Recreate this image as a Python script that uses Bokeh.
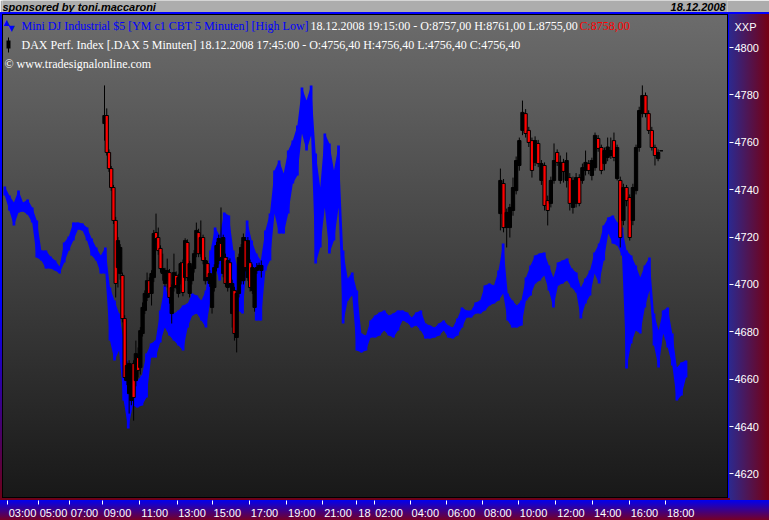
from bokeh.plotting import figure
from bokeh.layouts import column
from bokeh.models import Range1d, FixedTicker, Label, BoxAnnotation, ColumnDataSource
from bokeh.embed import file_html
from bokeh.resources import INLINE

# ---------------- data ----------------
# The time axis is bar based (gaps at night), x is measured in 15-minute chart slots.
# Mini DJ Industrial (YM), 15-minute high / low per slot, in index points
dj_high = [8850, 8845.5, 8842, 8848, 8842, 8843.5, 8839.5, 8833, 8818, 8818,
           8815, 8813, 8810, 8822, 8825, 8832, 8832, 8831.5, 8829.5, 8824,
           8819.5, 8815.5, 8819.5, 8799.5, 8793, 8786.5, 8773, 8760.5, 8753, 8753,
           8755.5, 8766.5, 8771.5, 8773, 8788, 8800.5, 8793, 8786.5, 8788, 8790.5,
           8791.5, 8796.5, 8795.5, 8793, 8798, 8818, 8829.5, 8825.5, 8837, 8835.5,
           8818, 8808, 8813, 8833, 8823, 8816.5, 8813, 8828, 8836.5, 8858,
           8863, 8856.5, 8868, 8873, 8880.5, 8899.5, 8893, 8900.5, 8866.5, 8849.5,
           8876.5, 8871.5, 8858, 8870.5, 8818, 8804, 8807, 8798, 8776.5, 8775.5,
           8783, 8785.5, 8787, 8788, 8785.5, 8786.5, 8788, 8788, 8787, 8784.5,
           8787, 8788, 8781.5, 8780.5, 8779.5, 8781.5, 8783, 8780.5, 8779.5, 8784,
           8789.5, 8788, 8788, 8792, 8793, 8800.5, 8801.5, 8800.5, 8808, 8821.5,
           8796.5, 8793, 8790.5, 8793, 8804.5, 8810.5, 8815.5, 8816.5, 8817, 8810.5,
           8804.5, 8812, 8813, 8814, 8809, 8807, 8799.5, 8804, 8808, 8817,
           8821.5, 8830.5, 8834.5, 8835.5, 8832, 8829.5, 8818, 8815.5, 8810.5, 8804.5,
           8810.5, 8814.5, 8786.5, 8778, 8788, 8789.5, 8776.5, 8759.5, 8762, 8763]
dj_low = [8845.5, 8838, 8830.5, 8837, 8837.5, 8836, 8832, 8814.5, 8813, 8809,
          8809, 8808, 8806.5, 8812, 8818, 8823, 8828.5, 8828, 8823, 8815.5,
          8813, 8806.5, 8806.5, 8773, 8763, 8768, 8743, 8729, 8740.5, 8739.5,
          8740.5, 8744.5, 8764.5, 8764.5, 8772, 8779.5, 8775.5, 8773, 8770.5, 8768,
          8779.5, 8785.5, 8786.5, 8783, 8779.5, 8793, 8809.5, 8803, 8809.5, 8810.5,
          8793, 8788, 8786.5, 8813, 8805.5, 8783, 8783, 8808, 8813, 8836.5,
          8826.5, 8826.5, 8836.5, 8851.5, 8855.5, 8876.5, 8868, 8875.5, 8811.5, 8819.5,
          8839.5, 8816.5, 8823, 8839.5, 8781.5, 8793, 8795.5, 8768, 8767, 8768,
          8774.5, 8774.5, 8775.5, 8778, 8775.5, 8774.5, 8778, 8783, 8782, 8779.5,
          8780.5, 8778, 8774, 8774, 8774.5, 8775.5, 8778, 8774.5, 8774, 8775.5,
          8779.5, 8784.5, 8784.5, 8786.5, 8786.5, 8788, 8790.5, 8791.5, 8793, 8796.5,
          8783, 8779.5, 8779.5, 8780.5, 8793, 8795.5, 8801.5, 8803, 8805.5, 8798,
          8789.5, 8800.5, 8801.5, 8803, 8799.5, 8797, 8784, 8791.5, 8795.5, 8806.5,
          8801.5, 8813, 8826.5, 8821.5, 8820.5, 8815.5, 8759, 8771.5, 8778, 8776.5,
          8789.5, 8798, 8770.5, 8759.5, 8776.5, 8769.5, 8760.5, 8743, 8745.5, 8754.5]

# DAX Perf. Index candles (open, high, low, close)
dax_day1 = [
    (4767.9, 4784.0, 4760.7, 4771.3), (4771.3, 4774.3, 4754.4, 4755.7), (4755.7, 4757.0, 4747.5, 4748.9),
    (4748.9, 4750.0, 4739.5, 4740.9), (4740.9, 4742.0, 4725.5, 4727.0), (4727.0, 4728.5, 4694.5, 4700.4),
    (4707.1, 4720.0, 4698.7, 4718.5), (4704.6, 4717.0, 4702.0, 4715.6), (4703.8, 4705.0, 4684.0, 4685.6),
    (4685.6, 4687.0, 4659.4, 4660.7), (4659.4, 4667.5, 4657.5, 4665.8), (4653.9, 4668.0, 4645.5, 4666.6),
    (4651.0, 4666.5, 4649.0, 4664.9), (4666.6, 4668.0, 4642.5, 4652.3), (4659.4, 4676.3, 4657.0, 4670.8),
    (4669.1, 4673.4, 4660.7, 4663.7), (4664.9, 4682.0, 4662.0, 4680.5), (4679.3, 4692.4, 4678.0, 4690.3),
    (4689.0, 4697.5, 4687.5, 4696.2), (4694.5, 4705.0, 4693.0, 4701.6), (4701.6, 4703.0, 4694.5, 4696.2),
    (4696.2, 4706.0, 4691.1, 4704.6), (4702.9, 4723.0, 4701.0, 4721.5), (4721.9, 4729.9, 4717.5, 4719.4),
    (4719.8, 4724.0, 4712.5, 4714.3), (4715.2, 4716.5, 4705.0, 4706.7), (4704.6, 4713.0, 4701.6, 4706.7),
    (4700.4, 4707.0, 4699.0, 4705.9), (4701.6, 4710.9, 4698.7, 4705.9), (4705.0, 4706.5, 4691.9, 4694.5),
    (4687.7, 4700.0, 4683.5, 4698.7), (4698.7, 4713.0, 4697.0, 4705.0), (4703.8, 4705.5, 4698.0, 4699.5),
    (4696.2, 4704.5, 4694.5, 4702.9), (4701.6, 4709.5, 4700.0, 4708.8), (4709.2, 4710.5, 4695.0, 4696.6),
    (4702.9, 4719.5, 4701.5, 4718.5), (4717.7, 4719.0, 4701.5, 4702.9), (4696.2, 4710.0, 4694.5, 4708.8),
    (4701.6, 4708.0, 4700.0, 4706.7), (4706.7, 4714.5, 4705.0, 4713.0), (4713.0, 4726.1, 4711.5, 4722.8),
    (4721.9, 4723.5, 4711.5, 4713.0), (4713.0, 4727.0, 4711.5, 4719.8), (4719.8, 4721.0, 4708.5, 4710.1),
    (4701.6, 4711.5, 4700.0, 4710.1), (4708.8, 4710.0, 4701.5, 4702.9), (4700.4, 4706.0, 4699.0, 4704.6),
    (4690.3, 4704.0, 4687.7, 4702.9), (4698.7, 4708.5, 4697.0, 4707.1), (4707.1, 4718.0, 4705.5, 4716.4),
    (4710.1, 4721.0, 4708.5, 4719.4), (4717.3, 4732.5, 4710.0, 4711.4), (4704.6, 4721.0, 4703.0, 4719.8),
    (4711.4, 4713.0, 4699.0, 4700.4), (4698.7, 4711.5, 4697.0, 4710.1), (4709.2, 4711.0, 4699.0, 4700.4),
    (4687.7, 4702.0, 4681.8, 4700.4), (4697.4, 4699.0, 4676.3, 4679.3), (4677.6, 4697.5, 4671.3, 4696.2),
    (4696.2, 4713.0, 4694.5, 4711.4), (4701.6, 4717.0, 4700.0, 4715.6), (4701.6, 4721.5, 4700.0, 4719.8),
    (4718.5, 4720.0, 4705.5, 4707.1), (4702.9, 4720.0, 4701.5, 4718.5), (4709.2, 4710.5, 4697.0, 4698.7),
    (4697.4, 4708.5, 4696.0, 4707.1), (4690.3, 4707.0, 4688.5, 4705.9), (4705.9, 4709.0, 4704.5, 4707.1),
    (4707.1, 4709.2, 4706.5, 4708.0), (4705.9, 4710.1, 4702.9, 4708.0),
]
dax_day2 = [
    (4729.9, 4748.9, 4722.8, 4743.9), (4742.6, 4744.5, 4722.0, 4724.0), (4724.0, 4732.0, 4715.6, 4730.4),
    (4724.0, 4734.0, 4719.8, 4732.5), (4731.2, 4745.1, 4729.0, 4740.9), (4739.6, 4754.0, 4738.0, 4752.3),
    (4750.2, 4762.0, 4748.0, 4760.7), (4765.0, 4777.6, 4763.0, 4772.6), (4772.1, 4774.0, 4762.0, 4763.7),
    (4765.0, 4766.5, 4758.0, 4759.9), (4760.7, 4762.0, 4745.1, 4748.1), (4751.5, 4762.5, 4750.0, 4760.7),
    (4759.5, 4761.0, 4749.5, 4751.0), (4743.9, 4752.5, 4742.0, 4751.0), (4750.2, 4751.5, 4731.2, 4733.3),
    (4735.4, 4737.5, 4724.9, 4731.2), (4734.2, 4745.5, 4732.5, 4743.9), (4743.9, 4759.5, 4742.5, 4752.3),
    (4755.7, 4757.0, 4750.0, 4751.5), (4743.9, 4754.4, 4742.5, 4751.5), (4751.5, 4753.0, 4743.0, 4747.7),
    (4743.9, 4755.7, 4740.9, 4752.3), (4745.1, 4747.0, 4731.2, 4734.2), (4732.5, 4745.5, 4729.9, 4743.9),
    (4734.2, 4747.0, 4732.5, 4745.1), (4745.1, 4746.5, 4733.0, 4734.2), (4743.9, 4751.0, 4742.5, 4749.3),
    (4748.1, 4756.5, 4746.0, 4751.5), (4751.0, 4752.5, 4746.5, 4748.1), (4746.0, 4753.5, 4743.9, 4752.3),
    (4749.3, 4764.1, 4748.0, 4762.9), (4761.6, 4763.0, 4756.0, 4757.4), (4757.8, 4759.0, 4746.5, 4748.1),
    (4751.0, 4757.8, 4748.1, 4756.5), (4753.6, 4762.0, 4752.0, 4758.0), (4754.4, 4762.0, 4753.0, 4756.5),
    (4760.7, 4764.1, 4752.0, 4753.6), (4744.7, 4759.0, 4743.9, 4757.8), (4743.9, 4745.5, 4715.6, 4719.8),
    (4727.0, 4742.5, 4725.0, 4740.9), (4740.9, 4742.0, 4733.0, 4735.4), (4736.7, 4738.0, 4718.5, 4719.8),
    (4727.0, 4742.5, 4725.0, 4740.9), (4739.6, 4759.0, 4738.0, 4757.8), (4757.8, 4775.0, 4756.0, 4773.4),
    (4772.1, 4784.0, 4770.5, 4779.7), (4779.7, 4781.0, 4770.5, 4772.1), (4772.1, 4773.5, 4763.5, 4765.0),
    (4765.0, 4766.5, 4756.5, 4757.8), (4757.8, 4759.0, 4750.2, 4754.4), (4753.1, 4757.0, 4752.0, 4755.7),
    (4756.4, 4756.4, 4756.4, 4756.4),
]
dax_day1_start, dax_day1_step = 22.31, 0.49   # slot of first candle, slots per candle
dax_day2_start, dax_day2_step = 108.9, 0.69

time_tick_slots = [1.09, 7.87, 14.65, 21.87, 30.01, 38.17, 45.89, 54.02, 62.18, 70.10,
                   77.52, 81.26, 89.20, 97.13, 105.07, 112.88, 121.04, 129.09, 137.12, 145.06]
time_tick_labels = ["03:00", "05:00", "07:00", "09:00", "11:00", "13:00", "15:00", "17:00", "19:00", "21:00",
                    "18", "02:00", "04:00", "06:00", "08:00", "10:00", "12:00", "14:00", "16:00", "18:00"]
dax_ticks = [4620, 4640, 4660, 4680, 4700, 4720, 4740, 4760, 4780, 4800]
dax_unit_label, dax_unit_pos = "XXP", 4808.8

# ---------------- layout ----------------
W = 769
PX_PER_SLOT = 4.572
FRAME_W, FRAME_H = 725, 486
DAX_PX = 2.3694           # px per DAX point
DJ_PX = 2.0               # px per DJ point
dax_top = 4800 + 33 / DAX_PX
dax_bottom = 4800 - 453 / DAX_PX
dj_top = 8758 + 356 / DJ_PX
dj_bottom = 8758 - 130 / DJ_PX

# ---- top bar ----
top = figure(width=W, height=12, x_range=Range1d(0, W), y_range=Range1d(0, 12),
             x_axis_location=None, y_axis_location=None, min_border=0,
             min_border_left=0, min_border_right=0, min_border_top=0, min_border_bottom=0,
             output_backend="svg", toolbar_location=None,
             background_fill_color="#adadad", border_fill_color="#adadad", outline_line_color=None)
top.grid.visible = False
top.add_layout(Label(x=0, y=6, text="sponsored by toni.maccaroni", text_color="black",
                     text_font="Liberation Sans", text_font_size="11px", text_font_style="bold italic",
                     text_baseline="middle"))
top.add_layout(Label(x=767, y=6, text="18.12.2008", text_color="black",
                     text_font="Liberation Sans", text_font_size="11px", text_font_style="bold italic",
                     text_align="right", text_baseline="middle"))

# ---- main chart ----
bg = [
    ("linear-gradient(#000,#000)", "2px 2px", "726px 1px"),
    ("linear-gradient(#000,#000)", "2px 2px", "1px 484px"),
    ("linear-gradient(#000,#000)", "727px 2px", "1px 484px"),
    ("linear-gradient(#000,#000)", "2px 485px", "726px 1px"),
    ("linear-gradient(#6e0018,#6e0018)", "0px 486px", "730px 2px"),
    ("linear-gradient(#0000ff,#0000ff)", "0px 0px", "769px 2px"),
    ("linear-gradient(to bottom,#0000ff,#0000ff 60%,#6e0018)", "0px 0px", "2px 486px"),
    ("linear-gradient(#0000ff,#0000ff)", "728px 0px", "1px 488px"),
    ("linear-gradient(to bottom,#6c6c6c,#181818)", "2px 2px", "726px 484px"),
    ("linear-gradient(to right,#2a2a92,#760012)", "728px 0px", "41px 488px"),
    ("linear-gradient(to bottom,#0000f0,#760026)", "0px 488px", "769px 20px"),
]
styles = {
    "background-color": "#3a3a3a",
    "background-image": ",".join(b[0] for b in bg),
    "background-position": ",".join(b[1] for b in bg),
    "background-size": ",".join(b[2] for b in bg),
    "background-repeat": "no-repeat",
}

p = figure(width=W, height=508, frame_width=FRAME_W, frame_height=FRAME_H,
           x_range=Range1d(0, FRAME_W / PX_PER_SLOT),
           y_range=Range1d(dax_bottom, dax_top),
           y_axis_location="right", output_backend="svg", toolbar_location=None,
           min_border_left=2, min_border_right=42, min_border_top=2, min_border_bottom=20,
           background_fill_color=None, border_fill_color=None, outline_line_color=None,
           styles=styles)
p.extra_y_ranges = {"dj": Range1d(dj_bottom, dj_top)}
p.xgrid.visible = False
p.ygrid.visible = False

# DJ high-low bars (15-minute ranges), drawn as a band plus the individual bars
dj_src = ColumnDataSource(dict(x=[i + 0.5 for i in range(len(dj_high))], high=dj_high, low=dj_low))
p.varea(x="x", y1="low", y2="high", source=dj_src, y_range_name="dj", fill_color="#0000ff")
p.vbar(x="x", width=0.6, top="high", bottom="low", source=dj_src, y_range_name="dj",
       fill_color="#0000ff", line_color=None)

# DAX candles
cx, co, ch, cl, cc = [], [], [], [], []
for day, start, step in ((dax_day1, dax_day1_start, dax_day1_step), (dax_day2, dax_day2_start, dax_day2_step)):
    for i, (o, h, l, c) in enumerate(day):
        cx.append(start + step * i)
        co.append(o); ch.append(h); cl.append(l); cc.append(c)
dax_src = ColumnDataSource(dict(
    x=cx, high=ch, low=cl,
    top=[max(o, c) for o, c in zip(co, cc)],
    bottom=[min(o, c) for o, c in zip(co, cc)],
    color=["#000000" if c >= o else "#ff0000" for o, c in zip(co, cc)],
))
p.segment(x0="x", y0="low", x1="x", y1="high", source=dax_src, line_color="black", line_width=1)
p.vbar(x="x", width=0.72, top="top", bottom="bottom", source=dax_src,
       fill_color="color", line_color="black", line_width=1)

# x axis: tick marks at the times, labels starting just right of each mark
offsets = [(15 if len(t) == 5 else 7.5) / PX_PER_SLOT for t in time_tick_labels]
label_pos = [round(s + o, 3) for s, o in zip(time_tick_slots, offsets)]
xa = p.xaxis[0]
xa.ticker = FixedTicker(ticks=label_pos, minor_ticks=time_tick_slots)
xa.major_label_overrides = {k: v for k, v in zip(label_pos, time_tick_labels)}
xa.axis_line_color = None
xa.major_tick_out = 0
xa.major_tick_in = 0
xa.minor_tick_out = 4
xa.minor_tick_in = 0
xa.minor_tick_line_color = "white"
xa.major_label_standoff = 2
xa.major_label_text_color = "white"
xa.major_label_text_font = "Liberation Sans"
xa.major_label_text_font_size = "11px"

# y axis (DAX scale) with the unit label XXP at its top
ya = p.yaxis[0]
ya.ticker = FixedTicker(ticks=dax_ticks + [dax_unit_pos], minor_ticks=dax_ticks)
ya.major_label_overrides = {dax_unit_pos: dax_unit_label}
ya.axis_line_color = None
ya.major_tick_out = 0
ya.major_tick_in = 0
ya.minor_tick_out = 6
ya.minor_tick_in = -2
ya.minor_tick_line_color = "white"
ya.major_label_standoff = 1
ya.major_label_text_color = "white"
ya.major_label_text_font = "Liberation Sans"
ya.major_label_text_font_size = "11px"


def label(text, rx, ry, color, size, font="Liberation Serif"):
    # rx/ry: reference pixels; screen units count from the frame's bottom-left corner (2, 500)
    p.add_layout(Label(x=rx - 2, y=500 - ry, x_units="screen", y_units="screen", text=text,
                       text_color=color, text_font=font, text_font_size=f"{size}px",
                       text_baseline="middle"))


label("\u25B2", 3, 22, "#0000ff", 8, "DejaVu Sans")
label("\u25BC", 8, 28, "#0000ff", 8, "DejaVu Sans")
label("Mini DJ Industrial $5 [YM c1  CBT  5 Minuten] [High Low]", 21, 25, "#0000ff", 12)
label("18.12.2008 19:15:00 - O:8757,00 H:8761,00 L:8755,00", 310, 25, "white", 12)
label("C:8758,00", 579, 25, "#ff0000", 12)

for l, r, t, b in ((5.5, 6.5, 463, 448), (4, 8, 460, 452)):
    p.add_layout(BoxAnnotation(left=l, right=r, top=t, bottom=b, left_units="screen",
                               right_units="screen", top_units="screen", bottom_units="screen",
                               fill_color="black", fill_alpha=1, line_color=None))
label("DAX Perf. Index [.DAX  5 Minuten] 18.12.2008 17:45:00 - O:4756,40 H:4756,40 L:4756,40 C:4756,40",
      21, 44, "white", 12)
label("\u00A9 www.tradesignalonline.com", 4, 63, "white", 12)

layout = column(top, p, spacing=0)
open("out.html", "w").write(file_html(layout, INLINE))
